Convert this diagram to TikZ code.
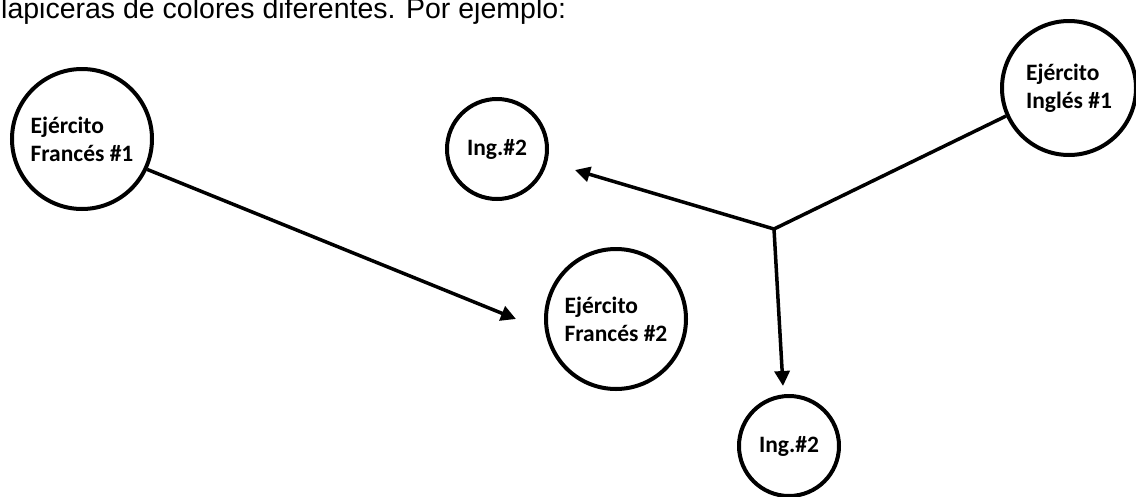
\documentclass[tikz,border=0pt]{standalone}
\usepackage{fontspec}
\setmainfont{Carlito}
\newfontfamily\arialf{Liberation Sans}
\usetikzlibrary{arrows.meta}
\tikzset{
  army/.style={circle,draw=black,line width=4pt,inner sep=0pt,align=left,
    font=\fontsize{23.5}{28}\selectfont\bfseries},
  conn/.style={line width=3.5pt,draw=black},
  arr/.style={conn,-{Triangle[length=15pt,width=15pt]}}
}
\begin{document}
\begin{tikzpicture}[x=1pt,y=-1pt]
\useasboundingbox (0,0) rectangle (1136,496);
\node[anchor=base west,font=\arialf\fontsize{28.5}{32}\selectfont,inner sep=0pt] (top) at (1,18) {lapiceras de colores diferentes. Por ejemplo:};
\node[army,minimum size=140pt] (f1) at (82,139) {Ejército\\Francés \#1};
\node[army,minimum size=100pt] (i2a) at (497,149) {Ing.\#2};
\node[army,minimum size=134pt] (e1) at (1069,88) {Ejército\\Inglés \#1};
\node[army,minimum size=140pt] (f2) at (616,319) {Ejército\\Francés \#2};
\node[army,minimum size=100pt] (i2b) at (789,446) {Ing.\#2};
\coordinate (j) at (774,229);
\coordinate (ta) at (575,170);
\coordinate (tb) at (783,386);
\draw[arr] (f1.-25) -- ([xshift=-28pt]f2.west);
\draw[conn] (e1.204) -- (j);
\draw[arr] (j) -- (ta);
\draw[arr] (j) -- (tb);
\end{tikzpicture}
\end{document}
